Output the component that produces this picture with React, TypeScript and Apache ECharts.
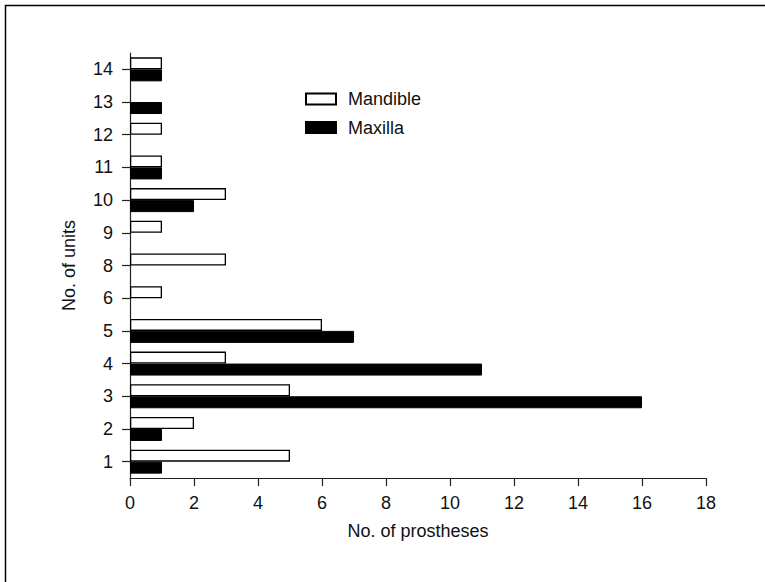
import React, { useEffect, useRef } from "react";
import * as echarts from "echarts";

const units = ["1", "2", "3", "4", "5", "6", "8", "9", "10", "11", "12", "13", "14"];
const mandible = [5, 2, 5, 3, 6, 1, 3, 1, 3, 1, 1, 0, 1];
const maxilla = [1, 1, 16, 11, 7, 0, 0, 0, 2, 1, 0, 1, 1];
const xTicks = { min: 0, max: 18, interval: 2 };

const FONT = "'Liberation Sans', Arial, sans-serif";
const FS = 18;

const noZero = (arr: number[]) => arr.map((v) => (v === 0 ? null : v));

export default function App() {
  const ref = useRef<HTMLDivElement>(null);
  useEffect(() => {
    if (!ref.current) return;
    const chart = echarts.init(ref.current, null, { renderer: "svg" });
    chart.setOption({
      animation: false,
      backgroundColor: "#fff",
      textStyle: { fontFamily: FONT, color: "#111" },
      graphic: [
        {
          type: "polyline",
          shape: { points: [[5.5, 600], [5.5, 5.5], [800, 5.5]] },
          style: { stroke: "#000", lineWidth: 1.5, fill: null },
          silent: true,
        },
      ],
      legend: {
        orient: "vertical",
        left: 300,
        top: 85,
        padding: 5,
        icon: "rect",
        itemWidth: 30,
        itemHeight: 11,
        itemGap: 10.5,
        data: ["Mandible", "Maxilla"],
        textStyle: { fontFamily: FONT, fontSize: FS, color: "#111", lineHeight: 18, padding: [0, 0, 0, 7] },
      },
      grid: { left: 130, right: 59, top: 53, bottom: 104 },
      xAxis: {
        type: "value",
        min: xTicks.min,
        max: xTicks.max,
        interval: xTicks.interval,
        name: "No. of prostheses",
        nameLocation: "middle",
        nameGap: 44,
        nameTextStyle: { fontFamily: FONT, fontSize: FS, color: "#111" },
        axisLine: { show: true, lineStyle: { color: "#222", width: 1.2 } },
        axisTick: { show: true, length: 8, lineStyle: { color: "#222", width: 1.2 } },
        axisLabel: { fontFamily: FONT, fontSize: FS, color: "#111", margin: 16 },
        splitLine: { show: false },
      },
      yAxis: {
        type: "category",
        data: units,
        name: "No. of units",
        nameLocation: "middle",
        nameGap: 52,
        nameRotate: 90,
        nameTextStyle: { fontFamily: FONT, fontSize: FS, color: "#111" },
        axisLine: { show: true, lineStyle: { color: "#222", width: 1.2 } },
        axisTick: { show: true, length: 8, alignWithLabel: true, lineStyle: { color: "#222", width: 1.2 } },
        axisLabel: { fontFamily: FONT, fontSize: FS, color: "#111", margin: 17 },
        splitLine: { show: false },
      },
      series: [
        {
          name: "Mandible",
          type: "bar",
          data: noZero(mandible),
          barWidth: 12,
          barGap: "0%",
          itemStyle: { color: "#fff", borderColor: "#000", borderWidth: 1.3 },
        },
        {
          name: "Maxilla",
          type: "bar",
          data: noZero(maxilla),
          barWidth: 12,
          barGap: "0%",
          itemStyle: { color: "#000", borderColor: "#000", borderWidth: 1 },
        },
      ],
    });
    return () => chart.dispose();
  }, []);
  return <div ref={ref} style={{ width: 765, height: 582, position: "absolute", left: 0, top: 0 }} />;
}
